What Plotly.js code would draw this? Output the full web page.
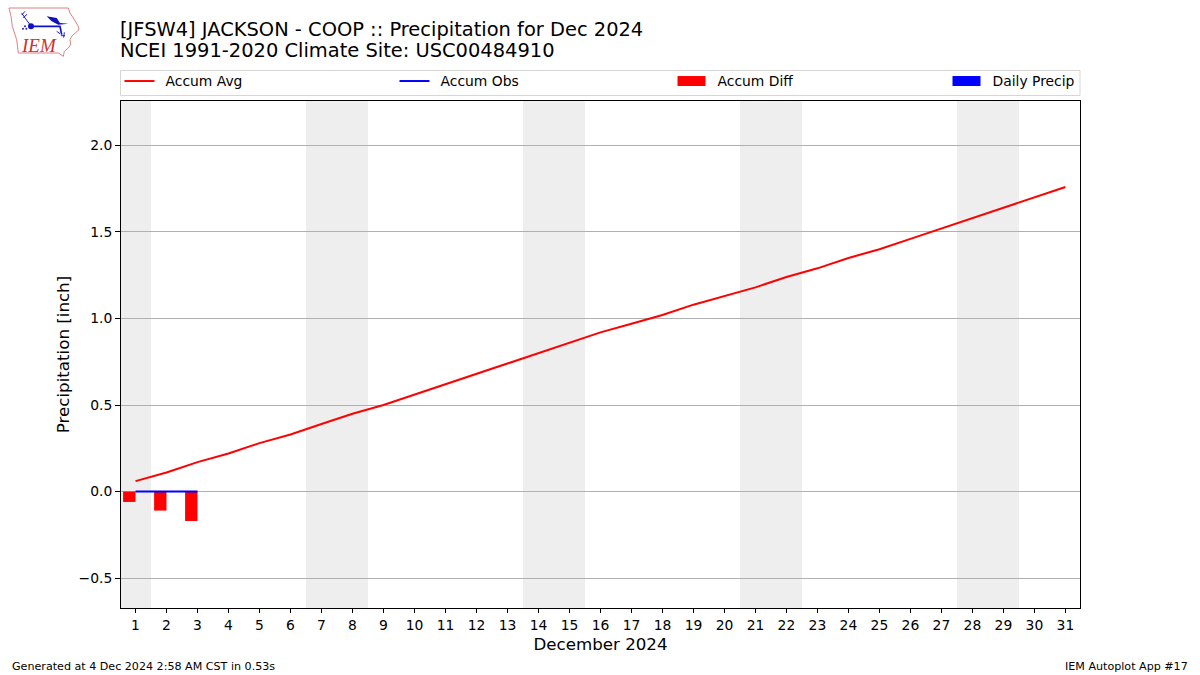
<!DOCTYPE html>
<html><head><meta charset="utf-8">
<script src="https://cdn.plot.ly/plotly-3.0.1.min.js"></script>
<style>html,body{margin:0;padding:0;background:#fff}</style></head>
<body><div id="chart" style="width:1200px;height:675px"></div>
<script>
const days = [1,2,3,4,5,6,7,8,9,10,11,12,13,14,15,16,17,18,19,20,21,22,23,24,25,26,27,28,29,30,31];
const accumAvg = [0.06,0.11,0.17,0.22,0.28,0.33,0.39,0.45,0.50,0.56,0.62,0.68,0.74,0.80,0.86,0.92,0.97,1.02,1.08,1.13,1.18,1.24,1.29,1.35,1.40,1.46,1.52,1.58,1.64,1.70,1.76];
const obsDays = [1,2,3];
const accumObs = [0,0,0];
const accumDiff = [-0.06,-0.11,-0.17];
const dailyPrecip = [0,0,0];
const weekendStarts = [0.5,6.5,13.5,20.5,27.5];
const weekendEnds = [1.5,8.5,15.5,22.5,29.5];
const titleLine1 = '[JFSW4] JACKSON - COOP :: Precipitation for Dec 2024';
const titleLine2 = 'NCEI 1991-2020 Climate Site: USC00484910';
const yTicks = [-0.5,0,0.5,1,1.5,2];
const yTickLabels = ['\u22120.5','0.0','0.5','1.0','1.5','2.0'];

const F = 'DejaVu Sans';
const W=1200,H=675,L=121,R=1080,T=101,B=608;
const px = x => (x-L)/(R-L), py = y => (B-y)/(B-T);

const traces = [
 {type:'scatter',mode:'lines',name:'Accum Avg',x:days,y:accumAvg,line:{color:'#ff0000',width:2}},
 {type:'scatter',mode:'lines',name:'Accum Obs',x:obsDays,y:accumObs,line:{color:'#0000ff',width:2}},
 {type:'bar',name:'Accum Diff',x:obsDays,y:accumDiff,width:0.4,offset:-0.4,marker:{color:'#ff0000',line:{width:0}}},
 {type:'bar',name:'Daily Precip',x:obsDays,y:dailyPrecip,width:0.4,offset:-0.4,marker:{color:'#0000ff',line:{width:0}}}
];
const shapes = weekendStarts.map((s,i)=>({type:'rect',layer:'below',xref:'x',yref:'paper',x0:s,x1:weekendEnds[i],y0:0,y1:1,fillcolor:'#eeeeee',line:{width:0}}));
shapes.push({type:'rect',xref:'paper',yref:'paper',x0:px(120.5),x1:px(1080),y0:py(95.5),y1:py(70.5),line:{color:'#d6d6d6',width:1},fillcolor:'rgba(0,0,0,0)'});

const logoSvg = `<svg xmlns="http://www.w3.org/2000/svg" width="80" height="58" viewBox="0 0 240 174">
<path d="M12,15 L190,15 L195,30 L205,45 L220,70 L222,80 L200,100 L195,110 L197,125 L190,135 L178,145 L175,160 L160,150 L40,150 L35,110 L22,70 L18,40 Z" fill="none" stroke="#e08080" stroke-width="3"/>
<path d="M50,30 L60,45 L75,65 M50,36 L60,25 M55,44 L66,34" fill="none" stroke="#1a1ad0" stroke-width="3"/>
<circle cx="78" cy="70" r="9" fill="#1010c0"/>
<path d="M78,70 L165,70 L170,95" stroke="#1010d0" stroke-width="5" fill="none"/>
<path d="M125,40 L155,45 L165,60 L190,62 L160,65 L140,55 Z" fill="#1010c0"/>
<path d="M155,85 L165,92 M178,88 L176,104 M168,98 L180,98" stroke="#2020d0" stroke-width="3" fill="none"/>
<circle cx="60" cy="70" r="3" fill="#2020d0"/><circle cx="54" cy="77" r="3" fill="#2020d0"/><circle cx="64" cy="77" r="3" fill="#2020d0"/>
</svg>`;

const layout = {
 width:W,height:H,autosize:false,paper_bgcolor:'#fff',plot_bgcolor:'#fff',
 margin:{l:L,r:W-R,t:T,b:H-B,pad:0},
 font:{family:F,size:13.89,color:'#000'},
 barmode:'overlay',
 title:{text:titleLine1,font:{family:F,size:19.44,color:'#000'},x:120/W,xanchor:'left',xref:'container',yref:'container',y:1-29/H,yanchor:'middle'},
 xaxis:{range:[0.532,31.47],tickmode:'array',tickvals:days,ticktext:days.map(String),ticks:'outside',ticklen:4,tickwidth:1,tickcolor:'#000',
   showline:true,mirror:true,linecolor:'#000',linewidth:1,showgrid:false,zeroline:false,tickangle:0,
   tickfont:{family:F,size:13.89},title:{text:'December 2024',font:{family:F,size:16.67},standoff:6}},
 yaxis:{range:[-0.673,2.257],tickmode:'array',tickvals:yTicks,ticktext:yTickLabels,ticks:'outside',ticklen:5,tickwidth:1,tickcolor:'#000',
   showline:true,mirror:true,linecolor:'#000',linewidth:1,showgrid:true,gridcolor:'#b0b0b0',gridwidth:1,zeroline:false,
   tickfont:{family:F,size:13.89},title:{text:'Precipitation [inch]',font:{family:F,size:16.67},standoff:4}},
 legend:{orientation:'h',x:px(120.5),xanchor:'left',y:py(65.5),yanchor:'top',entrywidth:190,entrywidthmode:'pixels',itemwidth:30,
   bgcolor:'rgba(0,0,0,0)',borderwidth:0,font:{family:F,size:13.89,color:'#000'},traceorder:'normal',itemclick:false,itemdoubleclick:false},
 shapes:shapes,
 images:[{source:'data:image/svg+xml;utf8,'+encodeURIComponent(logoSvg),xref:'paper',yref:'paper',x:px(5),y:py(3),sizex:80/(R-L),sizey:58/(B-T),sizing:'stretch',xanchor:'left',yanchor:'top',layer:'above'}],
 annotations:[
  {text:titleLine2,xref:'paper',yref:'paper',x:px(117.5),y:py(50.5),xanchor:'left',yanchor:'middle',showarrow:false,font:{family:F,size:19.44,color:'#000'}},
  {text:'<i>IEM</i>',xref:'paper',yref:'paper',x:px(19),y:py(45),xanchor:'left',yanchor:'middle',showarrow:false,font:{family:'Liberation Serif',size:19,color:'#d03030'}},
  {text:'Generated at 4 Dec 2024 2:58 AM CST in 0.53s',xref:'paper',yref:'paper',x:px(10),y:py(666.5),xanchor:'left',yanchor:'middle',showarrow:false,font:{family:F,size:11.11,color:'#000'}},
  {text:'IEM Autoplot App #17',xref:'paper',yref:'paper',x:px(1190),y:py(666.5),xanchor:'right',yanchor:'middle',showarrow:false,font:{family:F,size:11.11,color:'#000'}}
 ]
};
const legendStarts = [0,275,552,827];
Plotly.newPlot('chart',traces,layout,{displayModeBar:false}).then(gd=>{
  gd.querySelectorAll('.legend .legendpoints path').forEach(p=>p.setAttribute('d','M14,5H-14V-5H14Z'));
  gd.querySelectorAll('.legend .traces').forEach((t,i)=>{
    const m=/translate\(([-\d.]+)[ ,]+([-\d.]+)\)/.exec(t.getAttribute('transform'));
    t.setAttribute('transform','translate('+(legendStarts[i]-1)+','+m[2]+')');
    const lt=t.querySelector('.legendtext');
    lt.setAttribute('x',parseFloat(lt.getAttribute('x'))+6);
    lt.querySelectorAll('tspan').forEach(s=>{if(s.getAttribute('x'))s.setAttribute('x',parseFloat(s.getAttribute('x'))+6);});
  });
  const clip=gd.querySelector('.legend .scrollbox');
  if(clip)clip.removeAttribute('clip-path');
  const lg=gd.querySelector('.legend');
  if(lg)lg.removeAttribute('clip-path');
});
</script></body></html>
